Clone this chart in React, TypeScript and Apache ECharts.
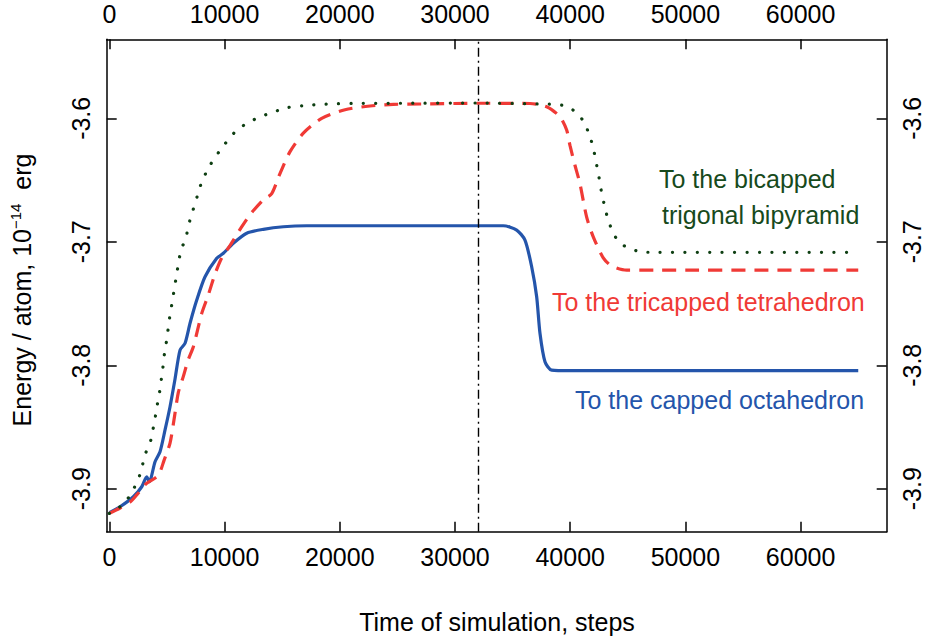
import React, { useEffect, useRef } from "react";
import * as echarts from "echarts";

// Relaxation toward the bicapped trigonal bipyramid (dotted)
const bicappedSteps = [
  0, 868, 1597, 2170, 2603, 2898, 3159, 3532, 3766, 3966, 4139, 4339, 4487, 4634, 4747, 4920,
  5068, 5207, 5380, 5554, 5727, 5901, 6075, 6370, 6569, 6804, 7064, 7411, 7697, 8044, 8739,
  9606, 10908, 11776, 12791, 13746, 14753, 15829, 16835, 17937, 19152, 21148, 25227, 32000,
  37376, 38530, 39571, 40500, 41194, 41602, 41949, 42175, 42383, 42583, 42756, 42990, 43251,
  43650, 44206, 45039, 46054, 47156, 65000,
];
const bicappedEnergy = [
  -3.92, -3.915, -3.908, -3.899, -3.89, -3.88, -3.871, -3.863, -3.853, -3.843, -3.833, -3.823,
  -3.813, -3.803, -3.793, -3.783, -3.773, -3.763, -3.753, -3.743, -3.733, -3.723, -3.713, -3.703,
  -3.7, -3.69, -3.68, -3.67, -3.661, -3.651, -3.638, -3.626, -3.611, -3.605, -3.6, -3.5965,
  -3.5933, -3.5906, -3.5898, -3.589, -3.5884, -3.5879, -3.5878, -3.5876, -3.5884, -3.5887,
  -3.59, -3.595, -3.603, -3.612, -3.622, -3.632, -3.642, -3.652, -3.662, -3.671, -3.681, -3.691,
  -3.7, -3.705, -3.708, -3.7085, -3.7085,
];

// Relaxation toward the tricapped tetrahedron (dashed)
const tricappedSteps = [
  0, 929, 1796, 2378, 2838, 3185, 4252, 4747, 5267, 5615, 5988, 6422, 6830, 7290, 8018, 8591,
  9173, 9754, 10474, 11342, 12210, 13364, 14093, 14753, 15682, 16835, 18432, 20454, 22624, 24646,
  26963, 32000, 36509, 37957, 39112, 39693, 39980, 40413, 40847, 41428, 42001, 42869, 43598,
  44900, 65000,
];
const tricappedEnergy = [
  -3.92, -3.9156, -3.9108, -3.905, -3.9, -3.896, -3.889, -3.877, -3.863, -3.844, -3.822, -3.809,
  -3.796, -3.785, -3.758, -3.743, -3.726, -3.713, -3.703, -3.69, -3.678, -3.666, -3.661, -3.646,
  -3.627, -3.612, -3.6, -3.593, -3.59, -3.5887, -3.5884, -3.5878, -3.588, -3.5906, -3.5987,
  -3.6095, -3.622, -3.638, -3.653, -3.68, -3.696, -3.713, -3.7196, -3.7229, -3.7229,
];

// Relaxation toward the capped octahedron (solid)
const cappedSteps = [
  0, 929, 2083, 2812, 3246, 3471, 3966, 4400, 4834, 5267, 5701, 6135, 6569, 7003, 7585, 8305,
  9320, 9893, 10761, 11923, 13364, 15100, 17130, 32000, 34191, 35354, 36074, 36655, 37089, 37376,
  37810, 38391, 39979, 65000,
];
const cappedEnergy = [
  -3.9194, -3.9146, -3.9065, -3.8984, -3.8903, -3.8943, -3.8781, -3.87, -3.8524, -3.8336,
  -3.8111, -3.7877, -3.7822, -3.766, -3.7472, -3.7283, -3.7134, -3.7093, -3.7012, -3.6931,
  -3.6899, -3.6878, -3.687, -3.687, -3.687, -3.6905, -3.6986, -3.7202, -3.7445, -3.7741, -3.7971,
  -3.8039, -3.8044, -3.8044,
];

const stepTicks = [0, 10000, 20000, 30000, 40000, 50000, 60000];
const energyTicks = [-3.9, -3.8, -3.7, -3.6];
const switchStep = 32000;

const FONT = "'Liberation Sans', Arial, Helvetica, sans-serif";
const FS = 25;
const GREEN = "#0e3f12";
const GREEN_TEXT = "#174a1c";
const RED = "#f03a36";
const BLUE = "#2455ab";

const pairs = (xs: number[], ys: number[]) => xs.map((x, i) => [x, ys[i]]);

function xAxisDef(position: "top" | "bottom") {
  return {
    type: "value" as const,
    position,
    min: -230,
    max: 67470,
    axisLine: { show: true, onZero: false, lineStyle: { color: "#000", width: 1.5 } },
    axisTick: { show: true, inside: true, length: 10, customValues: stepTicks, lineStyle: { color: "#000", width: 1.5 } },
    axisLabel: {
      customValues: stepTicks,
      fontSize: FS,
      fontFamily: FONT,
      color: "#000",
      margin: 13,
      formatter: (v: number) => String(Math.round(v)),
    },
    splitLine: { show: false },
  };
}

function yAxisDef(position: "left" | "right") {
  return {
    type: "value" as const,
    position,
    min: -3.9348,
    max: -3.536,
    axisLine: { show: true, onZero: false, lineStyle: { color: "#000", width: 1.5 } },
    axisTick: { show: true, inside: true, length: 10, customValues: energyTicks, lineStyle: { color: "#000", width: 1.5 } },
    axisLabel: {
      customValues: energyTicks,
      rotate: 90,
      fontSize: FS,
      fontFamily: FONT,
      color: "#000",
      margin: 13,
      formatter: (v: number) => v.toFixed(1),
    },
    splitLine: { show: false },
  };
}

export default function App() {
  const ref = useRef<HTMLDivElement>(null);

  useEffect(() => {
    const chart = echarts.init(ref.current!, null, { renderer: "svg" });
    const textStyle = (fill: string) => ({ fill, font: `${FS}px ${FONT}`, align: "left", verticalAlign: "middle" });
    chart.setOption({
      animation: false,
      backgroundColor: "#fff",
      grid: { left: 106.7, right: 49.3, top: 39.3, bottom: 112.3 },
      xAxis: [xAxisDef("bottom"), xAxisDef("top")],
      yAxis: [yAxisDef("left"), yAxisDef("right")],
      series: [
        {
          type: "line",
          name: "capped octahedron",
          data: pairs(cappedSteps, cappedEnergy),
          showSymbol: false,
          symbol: "none",
          smooth: 0.25,
          lineStyle: { color: BLUE, width: 3.2 },
          z: 2,
        },
        {
          type: "line",
          name: "tricapped tetrahedron",
          data: pairs(tricappedSteps, tricappedEnergy),
          showSymbol: false,
          symbol: "none",
          smooth: 0.25,
          lineStyle: { color: RED, width: 3.2, type: [14, 9] },
          z: 3,
        },
        {
          type: "line",
          name: "bicapped trigonal bipyramid",
          data: pairs(bicappedSteps, bicappedEnergy),
          showSymbol: false,
          symbol: "none",
          smooth: 0.25,
          lineStyle: { color: GREEN, width: 3.2, type: [0.1, 12.3], cap: "round" },
          z: 4,
          markLine: {
            silent: true,
            symbol: ["none", "none"],
            label: { show: false },
            lineStyle: { color: "#000", width: 1.4, type: [9, 4, 2, 4] },
            data: [{ xAxis: switchStep }],
          },
        },
      ],
      graphic: [
        { type: "text", x: 659, y: 179, style: { text: "To the bicapped", ...textStyle(GREEN_TEXT) } },
        { type: "text", x: 662, y: 215, style: { text: "trigonal bipyramid", ...textStyle(GREEN_TEXT) } },
        { type: "text", x: 552, y: 302, style: { text: "To the tricapped tetrahedron", ...textStyle(RED) } },
        { type: "text", x: 575, y: 400, style: { text: "To the capped octahedron", ...textStyle(BLUE) } },
        {
          type: "text",
          x: 497,
          y: 622,
          style: { text: "Time of simulation, steps", fill: "#000", font: `${FS}px ${FONT}`, align: "center", verticalAlign: "middle" },
        },
        {
          type: "text",
          x: 22,
          y: 290,
          rotation: Math.PI / 2,
          style: {
            text: "{a|Energy / atom, 10}{s|−14}{a|  erg}",
            align: "center",
            verticalAlign: "middle",
            rich: {
              a: { fontSize: FS, fontFamily: FONT, fill: "#000" },
              s: { fontSize: 15, fontFamily: FONT, fill: "#000", padding: [0, 0, 14, 0] },
            },
          },
        },
      ],
    });
    return () => chart.dispose();
  }, []);

  return <div ref={ref} style={{ position: "fixed", left: 0, top: 0, width: 936, height: 644 }} />;
}
